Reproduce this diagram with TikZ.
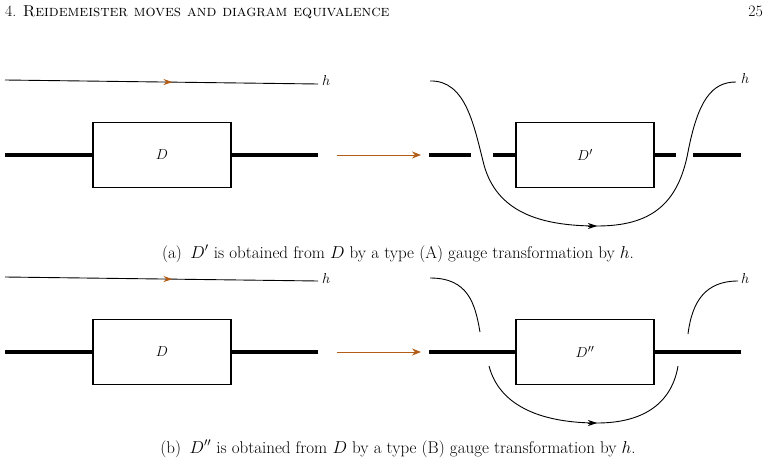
\documentclass[tikz,border=0pt]{standalone}
\usetikzlibrary{arrows.meta,decorations.markings}
\definecolor{arrorange}{RGB}{178,92,22}
\begin{document}
\begin{tikzpicture}[x=1pt,y=-1pt,
  font=\fontsize{15.8}{19}\selectfont,
  hline/.style={line width=0.9pt},
  thickline/.style={line width=3.3pt},
  boxnode/.style={draw,line width=1.1pt,minimum width=138pt,minimum height=65pt,inner sep=0pt},
  orangemid/.style={postaction={decorate},decoration={markings,mark=at position #1 with {\arrow{Stealth[length=9pt,width=6pt,color=arrorange]}}}},
  movearrow/.style={arrorange,line width=0.9pt,-{Stealth[length=9pt,width=7pt]}},
  tipblack/.style={-{Stealth[length=9pt,width=6pt]},hline},
  lbl/.style={inner sep=1pt},
  captxt/.style={anchor=base,inner sep=0pt,font=\fontsize{17}{20}\selectfont}
]
\useasboundingbox (0,0) rectangle (768,465);
% header
\node[anchor=base west,inner sep=0pt] (hdr) at (5,17) {4. \textsc{Reidemeister moves and diagram equivalence}};
\node[anchor=base east,inner sep=0pt] (pg) at (763,17) {25};

% ===== (a) left =====
\coordinate (ha0) at (5,80);
\coordinate (ha1) at (318,84);
\node[lbl,anchor=west] (hA) at (321,81) {$h$};
\draw[hline,orangemid=0.535] (ha0) -- (ha1);
\node[boxnode] (DA) at (162,155) {$D$};
\coordinate (la0) at (5,155);
\coordinate (la1) at (318,155);
\draw[thickline] (la0) -- (DA.west);
\draw[thickline] (DA.east) -- (la1);
\coordinate (ma0) at (337,155);
\coordinate (ma1) at (421,155);
\draw[movearrow] (ma0) -- (ma1);

% ===== (a) right =====
\node[boxnode] (DpA) at (585,155) {$D'$};
\coordinate (ra0) at (429,155);
\coordinate (ra1) at (471,155);
\coordinate (ra2) at (493,155);
\coordinate (ra3) at (676,155);
\coordinate (ra4) at (693,155);
\coordinate (ra5) at (741,155);
\draw[thickline] (ra0) -- (ra1);
\draw[thickline] (ra2) -- (DpA.west);
\draw[thickline] (DpA.east) -- (ra3);
\draw[thickline] (ra4) -- (ra5);
\coordinate (ca0) at (430,81);
\coordinate (cab) at (597,226);
\coordinate (cab0) at (588,226);
\coordinate (ca1) at (736,82);
\draw[hline] (ca0) .. controls (466,80) and (474,126) .. (484,165)
  .. controls (497,212) and (540,226) .. (597,226)
  .. controls (650,226) and (678,205) .. (688,152)
  .. controls (698,100) and (712,82) .. (ca1);
\draw[tipblack] (cab0) -- (cab);
\node[lbl,anchor=west] (hAr) at (740,79) {$h$};

\node[captxt] (capA) at (398,258) {(a)\enspace$D'$ is obtained from $D$ by a type (A) gauge transformation by $h$.};

% ===== (b) left =====
\coordinate (hb0) at (5,277);
\coordinate (hb1) at (318,281);
\node[lbl,anchor=west] (hB) at (321,278) {$h$};
\draw[hline,orangemid=0.535] (hb0) -- (hb1);
\node[boxnode] (DB) at (162,352) {$D$};
\coordinate (lb0) at (5,352);
\coordinate (lb1) at (318,352);
\draw[thickline] (lb0) -- (DB.west);
\draw[thickline] (DB.east) -- (lb1);
\coordinate (mb0) at (337,352);
\coordinate (mb1) at (421,352);
\draw[movearrow] (mb0) -- (mb1);

% ===== (b) right =====
\node[boxnode] (DpB) at (585,352) {$D''$};
\coordinate (rb0) at (429,352);
\coordinate (rb1) at (741,352);
\draw[thickline] (rb0) -- (DpB.west);
\draw[thickline] (DpB.east) -- (rb1);
\coordinate (cb0) at (430,278);
\coordinate (cb1) at (480,332);
\draw[hline] (cb0) .. controls (468,278) and (475,303) .. (cb1);
\coordinate (cb2) at (688,334);
\coordinate (cb3) at (738,281);
\draw[hline] (cb2) .. controls (692,302) and (705,281) .. (cb3);
\node[lbl,anchor=west] (hBr) at (740,278) {$h$};
\coordinate (cb4) at (489,366);
\coordinate (cbb) at (597,423);
\coordinate (cbb0) at (588,423);
\coordinate (cb5) at (678,366);
\draw[hline] (cb4) .. controls (500,408) and (545,423) .. (cbb)
  .. controls (645,423) and (672,402) .. (cb5);
\draw[tipblack] (cbb0) -- (cbb);

\node[captxt] (capB) at (398,453) {(b)\enspace$D''$ is obtained from $D$ by a type (B) gauge transformation by $h$.};
\end{tikzpicture}
\end{document}
